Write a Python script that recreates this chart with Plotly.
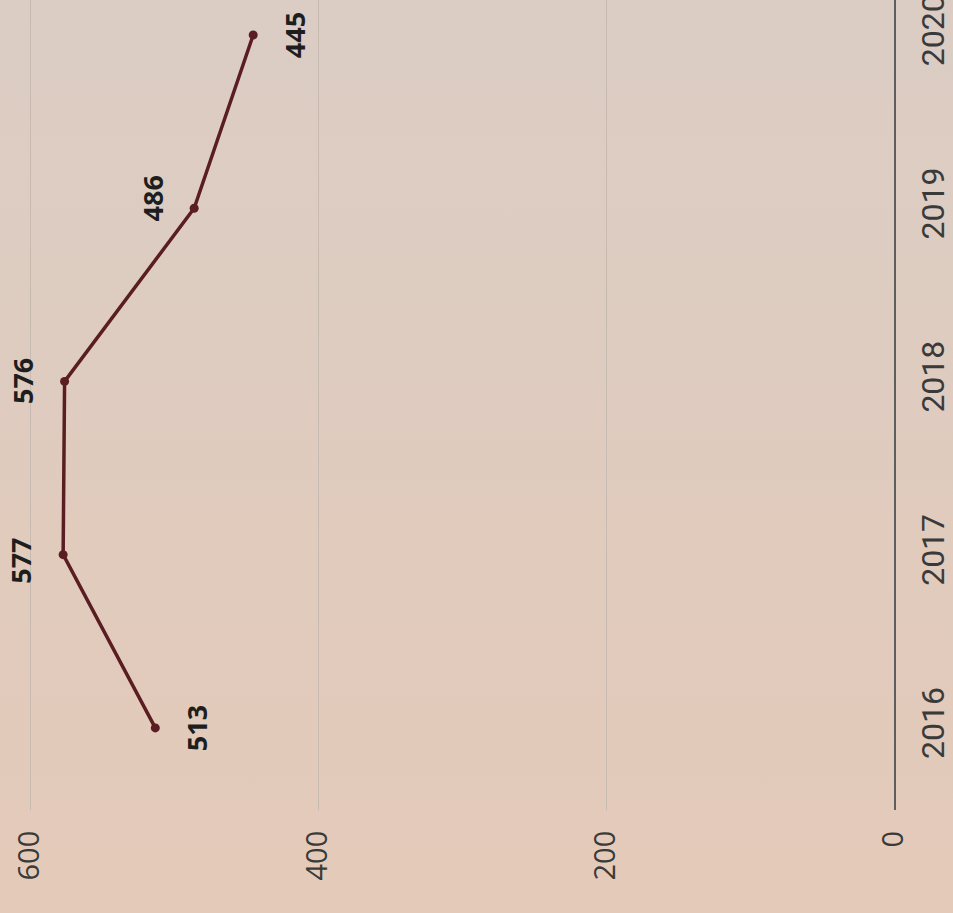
import plotly.graph_objects as go

years = [2016, 2017, 2018, 2019, 2020]
values = [513, 577, 576, 486, 445]
value_ticks = [0, 200, 400, 600]
year_ticks = [2016, 2017, 2018, 2019, 2020]
# label placement relative to the point (below/above in the chart's own frame)
label_side = [1, -1, -1, -1, 1]

line_color = "#5a1d22"
bg = "#dfcbbd"

fig = go.Figure()
fig.add_trace(go.Scatter(
    x=values, y=years, mode="lines+markers",
    line=dict(color=line_color, width=3.5),
    marker=dict(color=line_color, size=9),
    hoverinfo="skip", showlegend=False,
))

for v, yr, s in zip(values, years, label_side):
    fig.add_annotation(
        x=v, y=yr, text=f"<b>{v}</b>", showarrow=False, textangle=-90,
        xshift=42 * s, yshift=(10 if yr == 2019 else (-6 if yr == 2017 else 0)),
        font=dict(family="Open Sans, sans-serif", size=27, color="#1e1e1e"),
    )

fig.update_layout(
    width=953, height=913,
    margin=dict(l=10, r=59, t=0, b=103, autoexpand=False),
    paper_bgcolor="rgba(0,0,0,0)", plot_bgcolor="rgba(0,0,0,0)",
    xaxis=dict(
        range=[613.9, 0], tickvals=value_ticks, ticktext=[str(t) for t in value_ticks],
        tickangle=-90, showgrid=True, gridcolor="#c6bab1", gridwidth=1,
        zeroline=False, showline=False, ticklabelstandoff=14, automargin=False,
        ticklabeloverflow="allow",
        tickfont=dict(family="Open Sans, sans-serif", size=29, color="#3a3a3a"),
    ),
    yaxis=dict(
        range=[2015.526, 2020.202], tickvals=year_ticks, ticktext=[str(t) for t in year_ticks],
        side="right", tickangle=-90, showgrid=False, zeroline=False,
        showline=True, linecolor="#5e5e5e", linewidth=1.5, ticklabelstandoff=10,
        automargin=False, ticklabeloverflow="allow",
        tickfont=dict(family="Roboto, sans-serif", size=32, color="#3a3a3a"),
    ),
)

fig.write_html(
    "out.html",
    config={"displayModeBar": False},
    post_script=(
        "document.body.style.margin='0';"
        "document.body.style.background='linear-gradient(to bottom, #dbcdc4, #e4cab9)';"
        "document.documentElement.style.background='#e0cbbd';"
    ),
)
